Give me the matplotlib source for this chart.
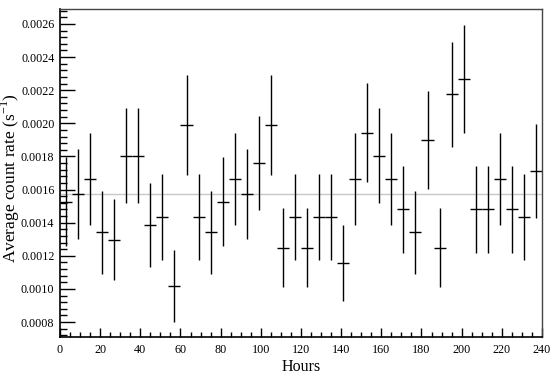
import numpy as np
import matplotlib.pyplot as plt
from matplotlib.ticker import MultipleLocator, FormatStrFormatter

plt.rcParams['font.family'] = ['Liberation Serif', 'DejaVu Serif']
plt.rcParams['mathtext.fontset'] = 'custom'
plt.rcParams['mathtext.rm'] = 'Liberation Serif'

#6 hour bins
bin_hours = 6
bin_seconds = bin_hours*3600 #[s]
hours = np.arange(3, 240, bin_hours) #bin centres [h]

#counts per bin
counts = [33, 34, 36, 29, 28, 39, 39, 30, 31, 22,
          43, 31, 29, 33, 36, 34, 38, 43, 27, 31,
          27, 31, 31, 25, 36, 42, 39, 36, 32, 29,
          41, 27, 47, 49, 32, 32, 36, 32, 31, 37]

mean_rate = 0.001572 #[1/s] grey reference line

rate = np.array(counts)/bin_seconds
rate_err = np.sqrt(counts)/bin_seconds

fig = plt.figure(figsize=(5.54, 3.77), dpi=100)
ax = fig.add_axes([0.1083, 0.1061, 0.87, 0.87])

ax.axhline(mean_rate, color='#c8c8c8', lw=1, zorder=1)
ax.errorbar(hours, rate, xerr=bin_hours/2, yerr=rate_err, fmt='none',
            ecolor='black', elinewidth=1, capsize=0, zorder=2)

ax.set_xlim(0, 240)
ax.set_ylim(0.00071, 0.00269)
ax.xaxis.set_major_locator(MultipleLocator(20))
ax.xaxis.set_minor_locator(MultipleLocator(5))
ax.yaxis.set_major_locator(MultipleLocator(0.0002))
ax.yaxis.set_minor_locator(MultipleLocator(0.00004))
ax.yaxis.set_major_formatter(FormatStrFormatter('%.4f'))

ax.tick_params(which='both', direction='in', top=False, right=False, labelsize=8.7, colors='black')
ax.tick_params(axis='y', which='major', length=10.8, width=1, pad=4)
ax.tick_params(axis='y', which='minor', length=5.2, width=1)
ax.tick_params(axis='x', which='major', length=6.5, width=1, pad=5)
ax.tick_params(axis='x', which='minor', length=3.6, width=1)

for side in ['left', 'bottom']:
    ax.spines[side].set_linewidth(1.2)
for side in ['top', 'right']:
    ax.spines[side].set_linewidth(1)
    ax.spines[side].set_color('#444444')

ax.set_xlabel('Hours', fontsize=11.5, labelpad=2.5)
ax.set_ylabel(r'Average count rate (s$^{\mathregular{-1}}$)', fontsize=12.5)
ax.yaxis.set_label_coords(-0.079, 0.485)

fig.savefig('out.png', dpi=100)
